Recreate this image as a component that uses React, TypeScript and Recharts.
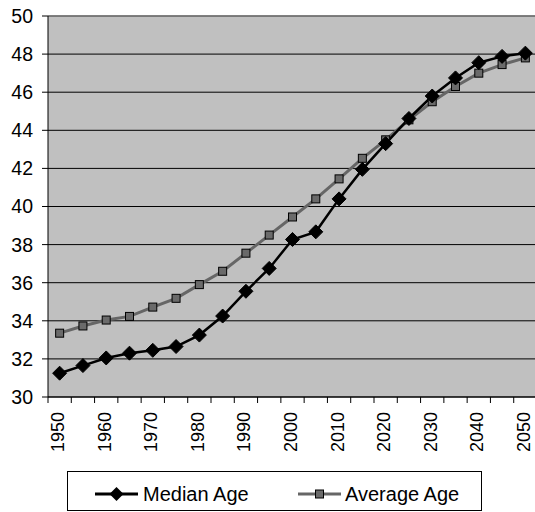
import React from 'react';
import { LineChart, Line, XAxis, YAxis, CartesianGrid, ReferenceLine } from 'recharts';

const years = [
    '1950', '1955', '1960', '1965', '1970', '1975', '1980', '1985', '1990', '1995', '2000',
    '2005', '2010', '2015', '2020', '2025', '2030', '2035', '2040', '2045', '2050',
];
const medianAge = [
    31.25, 31.65, 32.05, 32.3, 32.45, 32.65, 33.25, 34.25, 35.55, 36.75, 38.27,
    38.67, 40.4, 41.95, 43.3, 44.62, 45.8, 46.75, 47.55, 47.88, 48.05,
];
const averageAge = [
    33.35, 33.73, 34.04, 34.23, 34.72, 35.18, 35.9, 36.6, 37.55, 38.5, 39.45,
    40.4, 41.45, 42.53, 43.5, 44.55, 45.5, 46.3, 47.0, 47.45, 47.8,
];
const yTicks = [30, 32, 34, 36, 38, 40, 42, 44, 46, 48, 50];

const data = years.map((year, i) => ({ year, median: medianAge[i], average: averageAge[i] }));

const FONT = '"Liberation Sans", Arial, sans-serif';
const HALF_BAND = 11.64;

const XTick = (props: any) => {
    const { x, y, index, payload } = props;
    return (
        <g>
            <line x1={x - HALF_BAND} x2={x - HALF_BAND} y1={y - 6} y2={y} stroke="#000" />
            {index % 2 === 0 && (
                <text
                    x={x - 1.5}
                    y={y + 9}
                    transform={`rotate(-90, ${x - 1.5}, ${y + 9})`}
                    textAnchor="end"
                    dominantBaseline="central"
                    fontSize={18}
                    fontFamily={FONT}
                    fill="#000"
                >
                    {payload.value}
                </text>
            )}
        </g>
    );
};

const Diamond = (props: any) => {
    const { cx, cy, index } = props;
    if (cx == null || cy == null) return null;
    return <path key={`d${index}`} d={`M${cx},${cy - 7}L${cx + 7},${cy}L${cx},${cy + 7}L${cx - 7},${cy}Z`} fill="#000" stroke="#000" />;
};

const Square = (props: any) => {
    const { cx, cy, index } = props;
    if (cx == null || cy == null) return null;
    return <rect key={`s${index}`} x={cx - 4} y={cy - 4} width={8} height={8} fill="#6a6a6a" stroke="#000" strokeWidth={1} />;
};

const App: React.FC = () => {
    return (
        <div style={{ position: 'absolute', left: 0, top: 0, width: 535, height: 512, overflow: 'hidden', background: '#fff' }}>
            <LineChart width={540} height={512} data={data} margin={{ top: 16, right: 3, left: 0, bottom: 55 }}>
                <CartesianGrid
                    vertical={false}
                    horizontal
                    stroke="#000"
                    fill="#c0c0c0"
                    fillOpacity={1}
                />
                <XAxis
                    dataKey="year"
                    interval={0}
                    height={60}
                    padding={{ left: HALF_BAND, right: HALF_BAND }}
                    axisLine={{ stroke: '#000' }}
                    tickLine={false}
                    tickSize={6}
                    tickMargin={0}
                    tick={<XTick />}
                />
                <YAxis
                    domain={[30, 50]}
                    ticks={yTicks}
                    interval={0}
                    width={48}
                    axisLine={{ stroke: '#000' }}
                    tickLine={{ stroke: '#000' }}
                    tickSize={6}
                    tickMargin={9}
                    tick={{ fill: '#000', fontSize: 19.5, fontFamily: FONT }}
                />
                <ReferenceLine y={50} stroke="#808080" strokeWidth={1.5} />
                <Line
                    type="linear"
                    dataKey="average"
                    stroke="#666666"
                    strokeWidth={3}
                    dot={<Square />}
                    isAnimationActive={false}
                />
                <Line
                    type="linear"
                    dataKey="median"
                    stroke="#000"
                    strokeWidth={2.5}
                    dot={<Diamond />}
                    isAnimationActive={false}
                />
            </LineChart>
            <div
                style={{
                    position: 'absolute', left: 67, top: 471, width: 413, height: 38,
                    border: '1px solid #000', background: '#fff',
                }}
            >
                <svg width={413} height={38} style={{ display: 'block' }}>
                    <line x1={27} x2={70} y1={22} y2={22} stroke="#000" strokeWidth={3} />
                    <path d="M48.5,15L55.5,22L48.5,29L41.5,22Z" fill="#000" />
                    <text x={75} y={22} dominantBaseline="central" fontSize={20} fontFamily={FONT} fill="#000">Median Age</text>
                    <line x1={230} x2={273} y1={22} y2={22} stroke="#666666" strokeWidth={3} />
                    <rect x={247.5} y={18} width={8} height={8} fill="#6a6a6a" stroke="#000" />
                    <text x={277} y={22} dominantBaseline="central" fontSize={20} fontFamily={FONT} fill="#000">Average Age</text>
                </svg>
            </div>
        </div>
    );
};

export default App;
